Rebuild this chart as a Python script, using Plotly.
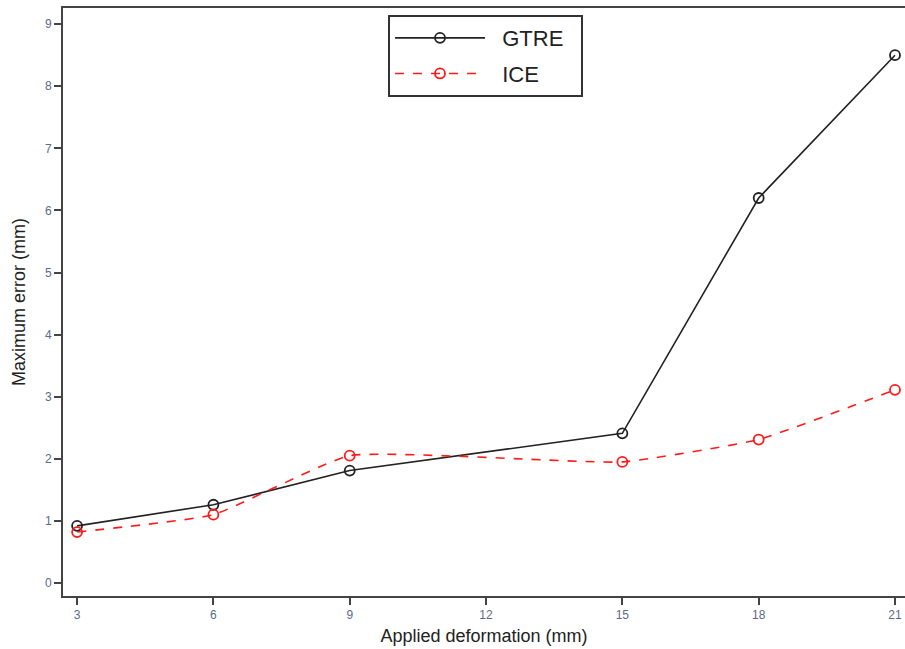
import plotly.graph_objects as go

deformation = [3, 6, 9, 15, 18, 21]
gtre_error = [0.92, 1.26, 1.81, 2.41, 6.2, 8.5]
ice_error = [0.82, 1.1, 2.05, 1.95, 2.31, 3.11]
x_ticks = [3, 6, 9, 12, 15, 18, 21]
y_ticks = [0, 1, 2, 3, 4, 5, 6, 7, 8, 9]

pad = "\u00a0\u00a0"
fig = go.Figure()
fig.add_trace(go.Scatter(
    x=deformation, y=gtre_error, name=pad + "GTRE" + pad, mode="lines+markers",
    line=dict(color="#222222", width=1.6),
    marker=dict(symbol="circle-open", size=10, color="#222222", line=dict(width=1.8)),
    legendgroup="g1",
))
fig.add_trace(go.Scatter(
    x=deformation, y=ice_error, name=pad + "ICE" + pad, mode="lines+markers",
    line=dict(color="#ff1a1a", width=1.6, dash="dash", shape="spline", smoothing=0.4),
    marker=dict(symbol="circle-open", size=10, color="#ff1a1a", line=dict(width=1.8)),
    legendgroup="g2",
))

tickfont = dict(family="Arial, Liberation Sans, sans-serif", size=12, color="#5a6a8a")
fig.update_layout(
    width=905, height=649,
    margin=dict(l=63, r=0, t=8, b=53),
    plot_bgcolor="white", paper_bgcolor="white",
    font=dict(family="Arial, Liberation Sans, sans-serif"),
    showlegend=True,
    legend=dict(
        x=0.386, y=0.988, xanchor="left", yanchor="top",
        bordercolor="#333333", borderwidth=2, bgcolor="white",
        font=dict(size=22, color="#222222"),
        traceorder="grouped", tracegroupgap=4, itemwidth=90,
    ),
    xaxis=dict(
        range=[2.69, 21.22], tickvals=x_ticks, showgrid=False, zeroline=False,
        showline=True, linecolor="#444444", linewidth=2, mirror=True,
        ticks="outside", ticklen=7, tickwidth=2, tickcolor="#444444",
        tickfont=tickfont, automargin=False,
        title=dict(text="Applied deformation (mm)", font=dict(size=18, color="#222222"), standoff=8),
    ),
    yaxis=dict(
        range=[-0.21, 9.26], tickvals=y_ticks, showgrid=False, zeroline=False,
        showline=True, linecolor="#444444", linewidth=2, mirror=False,
        ticks="outside", ticklen=7, tickwidth=2, tickcolor="#444444",
        tickfont=tickfont, automargin=False,
        title=dict(text="Maximum error (mm)", font=dict(size=18, color="#222222"), standoff=15),
    ),
)
fig.write_html(
    "out.html",
    config={"displayModeBar": False},
    post_script="document.body.style.margin='0';document.body.style.overflow='hidden';",
)
